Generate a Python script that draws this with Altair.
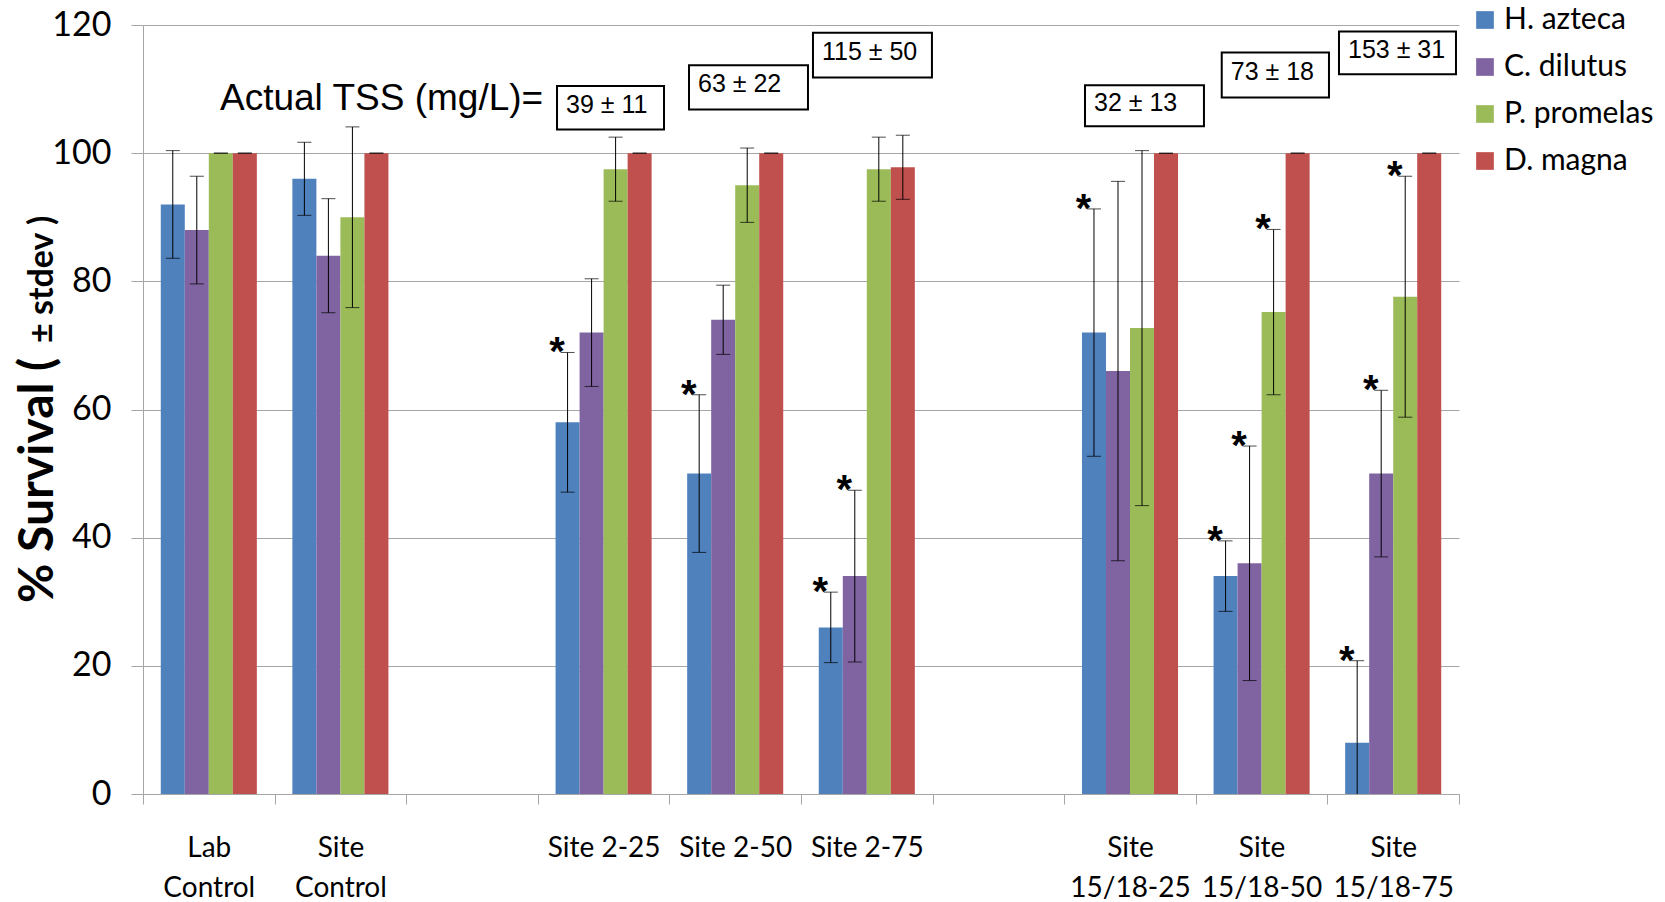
import altair as alt
import pandas as pd

# ---------------- data ----------------
categories = ["Lab|Control", "Site|Control", "gap1", "Site 2-25", "Site 2-50",
              "Site 2-75", "gap2", "Site|15/18-25", "Site|15/18-50", "Site|15/18-75"]
groups = ["Lab|Control", "Site|Control", "Site 2-25", "Site 2-50", "Site 2-75",
          "Site|15/18-25", "Site|15/18-50", "Site|15/18-75"]
species = ["H. azteca", "C. dilutus", "P. promelas", "D. magna"]
colors = ["#4F81BD", "#8064A2", "#9BBB59", "#C0504D"]

h_azteca = [92, 96, 58, 50, 26, 72, 34, 8]
h_azteca_sd = [8.4, 5.7, 10.9, 12.3, 5.5, 19.3, 5.5, 12.8]
c_dilutus = [88, 84, 72, 74, 34, 66, 36, 50]
c_dilutus_sd = [8.4, 8.9, 8.4, 5.4, 13.4, 29.6, 18.3, 13.0]
p_promelas = [100, 90, 97.5, 95, 97.5, 72.7, 75.2, 77.6]
p_promelas_sd = [0, 14.1, 5.0, 5.8, 5.0, 27.7, 12.9, 18.8]
d_magna = [100, 100, 100, 100, 97.8, 100, 100, 100]
d_magna_sd = [0, 0, 0, 0, 5.0, 0, 0, 0]

sig_group = ["Site 2-25", "Site 2-50", "Site 2-75", "Site 2-75", "Site|15/18-25",
             "Site|15/18-50", "Site|15/18-50", "Site|15/18-50",
             "Site|15/18-75", "Site|15/18-75", "Site|15/18-75"]
sig_species = ["H. azteca", "H. azteca", "H. azteca", "C. dilutus", "H. azteca",
               "H. azteca", "C. dilutus", "P. promelas",
               "H. azteca", "C. dilutus", "P. promelas"]

tss_text = ["39 ± 11", "63 ± 22", "115 ± 50", "32 ± 13", "73 ± 18", "153 ± 31"]
tss_x1 = [3.146, 4.149, 5.091, 7.158, 8.197, 9.088]
tss_x2 = [3.959, 5.053, 5.995, 8.062, 9.012, 9.977]
tss_top = [110.5, 113.7, 118.8, 110.6, 115.7, 119.0]
tss_bottom = [103.7, 106.8, 111.8, 104.2, 108.7, 112.3]
tss_heading = "Actual TSS (mg/L)="
tss_heading_x = [0.585]
tss_heading_y = [106.7]

# ---------------- tables ----------------
means = [h_azteca, c_dilutus, p_promelas, d_magna]
sds = [h_azteca_sd, c_dilutus_sd, p_promelas_sd, d_magna_sd]
rows = []
for s, m, d in zip(species, means, sds):
    for g, mv, dv in zip(groups, m, d):
        rows.append({"group": g, "species": s, "mean": mv, "sd": dv})
df = pd.DataFrame(rows)
df["lo"] = df["mean"] - df["sd"]
df["hi"] = df["mean"] + df["sd"]

sig = pd.DataFrame({"group": sig_group, "species": sig_species}).merge(df, on=["group", "species"])

tss = pd.DataFrame({"label": tss_text, "x1": tss_x1, "x2": tss_x2,
                    "top": tss_top, "bottom": tss_bottom})
tss["mid"] = (tss["top"] + tss["bottom"]) / 2
heading = pd.DataFrame({"label": [tss_heading], "x": tss_heading_x, "y": tss_heading_y})

# ---------------- scales ----------------
GRAY = "#a6a6a6"
xscale = alt.Scale(domain=categories, paddingInner=0, paddingOuter=0)
offscale = alt.Scale(domain=species, paddingInner=0, paddingOuter=0.74)
yscale = alt.Scale(domain=[0, 120], nice=False)

xaxis = alt.Axis(title=None, labelAngle=0, labelFont="Lato", labelFontSize=28,
                 labelColor="black", labelPadding=30, labelLineHeight=40,
                 labelBaseline="top", tickBand="extent", tickSize=10,
                 tickColor=GRAY, domainColor=GRAY, grid=False, labelLimit=400,
                 labelOverlap=False,
                 labelExpr="indexof(datum.label, 'gap') == 0 ? '' : split(datum.label, '|')")
yaxis = alt.Axis(title=None, values=[0, 20, 40, 60, 80, 100, 120], labelFont="Lato",
                 labelFontSize=34, labelColor="black", labelPadding=20, tickSize=12,
                 tickColor=GRAY, domainColor=GRAY, gridColor=GRAY, grid=True)

X = alt.X("group:N", scale=xscale, axis=xaxis, sort=categories, title=None)
XO = alt.XOffset("species:N", scale=offscale, sort=species)
Y = alt.Y("mean:Q", scale=yscale, axis=yaxis, title=None)

bars = alt.Chart(df).mark_bar().encode(
    x=X, xOffset=XO, y=Y,
    color=alt.Color("species:N", sort=species,
                    scale=alt.Scale(domain=species, range=colors),
                    legend=alt.Legend(orient="none", legendX=1327, legendY=-20,
                                      title=None, symbolType="square", symbolSize=313,
                                      labelFont="Lato", labelFontSize=30,
                                      labelColor="black", rowPadding=17,
                                      labelOffset=4, padding=0,
                                      symbolStrokeWidth=0, labelLimit=300)),
)

rules = alt.Chart(df).mark_rule(color="black", strokeWidth=1, clip=True).encode(
    x=X, xOffset=XO, y=alt.Y("lo:Q", scale=yscale, axis=yaxis, title=None), y2="hi:Q")
cap_lo = alt.Chart(df).mark_tick(color="black", thickness=1, size=14, clip=True).encode(
    x=X, xOffset=XO, y=alt.Y("lo:Q", scale=yscale, axis=yaxis, title=None))
cap_hi = alt.Chart(df).mark_tick(color="black", thickness=1, size=14, clip=True).encode(
    x=X, xOffset=XO, y=alt.Y("hi:Q", scale=yscale, axis=yaxis, title=None))
stars = alt.Chart(sig).mark_text(text="*", font="Liberation Sans", fontWeight="bold",
                                 fontSize=40, dx=-10.5, dy=13, align="center",
                                 baseline="alphabetic", color="black").encode(
    x=X, xOffset=XO, y=alt.Y("hi:Q", scale=yscale, axis=yaxis, title=None))

main = alt.layer(bars, rules, cap_lo, cap_hi, stars)

XQ = alt.Scale(domain=[0, 10], nice=False, zero=False)
boxes = alt.Chart(tss).mark_rect(fill="white", stroke="black", strokeWidth=2).encode(
    x=alt.X("x1:Q", scale=XQ, axis=None), x2="x2:Q",
    y=alt.Y("top:Q", scale=yscale, axis=yaxis, title=None), y2="bottom:Q")
box_text = alt.Chart(tss).mark_text(font="Liberation Sans", fontSize=25, align="left",
                                    baseline="middle", dx=9, dy=-3, color="black").encode(
    x=alt.X("x1:Q", scale=XQ, axis=None),
    y=alt.Y("mid:Q", scale=yscale, axis=yaxis, title=None), text="label:N")
head_text = alt.Chart(heading).mark_text(font="Liberation Sans", fontSize=37, align="left",
                                         baseline="alphabetic", color="black").encode(
    x=alt.X("x:Q", scale=XQ, axis=None),
    y=alt.Y("y:Q", scale=yscale, axis=yaxis, title=None), text="label:N")
annot = alt.layer(boxes, box_text, head_text)

title_df = pd.DataFrame({"t": ["% Survival (", "± stdev )"]})
title1 = alt.Chart(title_df.iloc[[0]]).mark_text(
    font="Lato", fontWeight="bold", fontSize=48, angle=270, align="left",
    baseline="alphabetic", color="black").encode(
    x=alt.value(-90), y=alt.value(578), text="t:N")
title2 = alt.Chart(title_df.iloc[[1]]).mark_text(
    font="Lato", fontWeight="bold", fontSize=34, angle=270, align="left",
    baseline="alphabetic", color="black").encode(
    x=alt.value(-90), y=alt.value(318), text="t:N")

chart = alt.layer(main, annot, title1, title2).resolve_scale(x="independent").properties(
    width=1316, height=769,
    autosize=alt.AutoSizeParams(type="none"),
    padding={"left": 143, "top": 25, "right": 206, "bottom": 108},
    background="white",
).configure_view(stroke=None)

chart.save("out.html", embed_options={"renderer": "svg", "actions": False})
